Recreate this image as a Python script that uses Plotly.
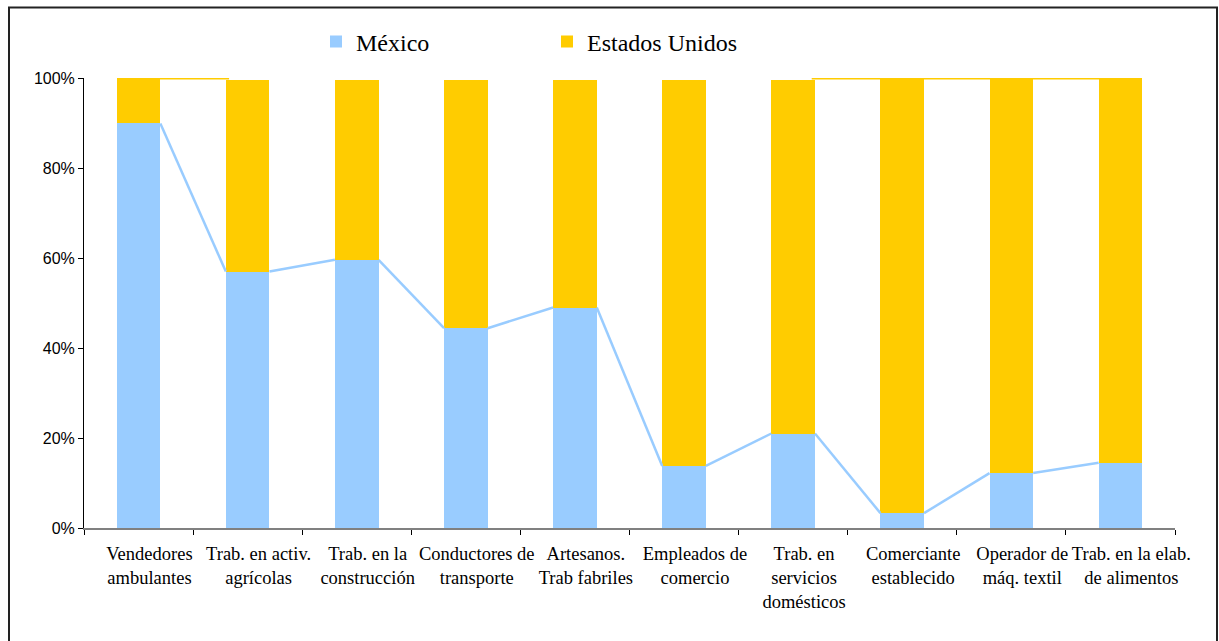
import plotly.graph_objects as go

# categories and values (percent)
ocupaciones = [
    "Vendedores<br>ambulantes",
    "Trab. en activ.<br>agrícolas",
    "Trab. en la<br>construcción",
    "Conductores de<br>transporte",
    "Artesanos.<br>Trab fabriles",
    "Empleados de<br>comercio",
    "Trab. en<br>servicios<br>domésticos",
    "Comerciante<br>establecido",
    "Operador de<br>máq. textil",
    "Trab. en la elab.<br>de alimentos",
]
mexico = [89.9, 57.0, 59.6, 44.4, 49.0, 13.8, 21.0, 3.3, 12.2, 14.5]
estados_unidos = [10.1, 42.6, 40.0, 55.2, 50.6, 85.8, 78.6, 96.7, 87.8, 85.5]
y_ticks = [0, 20, 40, 60, 80, 100]
y_labels = ["0%", "20%", "40%", "60%", "80%", "100%"]

AZUL = "#99CCFF"
AMARILLO = "#FFCC00"
W, H = 1219, 641
L, R, T, B = 84, 1219 - 1175, 78, 641 - 528
BW = 0.4

xs = list(range(len(ocupaciones)))
fig = go.Figure()
fig.add_trace(go.Bar(x=xs, y=mexico, name="México", marker=dict(color=AZUL, line_width=0),
                     width=BW))
fig.add_trace(go.Bar(x=xs, y=estados_unidos, name="Estados Unidos",
                     marker=dict(color=AMARILLO, line_width=0), width=BW))

# series lines (Excel style) joining the tops of neighbouring bars
for i in range(len(xs) - 1):
    fig.add_trace(go.Scatter(x=[xs[i] + BW / 2, xs[i + 1] - BW / 2], y=[mexico[i], mexico[i + 1]],
                             mode="lines", line=dict(color=AZUL, width=2.5), showlegend=False,
                             hoverinfo="skip", cliponaxis=False))
    tot_a = mexico[i] + estados_unidos[i]
    tot_b = mexico[i + 1] + estados_unidos[i + 1]
    if max(tot_a, tot_b) >= 100:
        fig.add_trace(go.Scatter(x=[xs[i] + BW / 2 - 0.03, xs[i + 1] - BW / 2 + 0.03],
                                 y=[max(tot_a, tot_b)] * 2, mode="lines",
                                 line=dict(color=AMARILLO, width=3), showlegend=False,
                                 hoverinfo="skip", cliponaxis=False))


def px(xp, yp):
    # screen pixel -> paper coords
    return (xp - L) / (W - L - R), 1 - (yp - T) / (H - T - B)


x0, y0 = px(9, 7.5)
x1, y1 = px(1217, 650)
fig.add_shape(type="rect", xref="paper", yref="paper", x0=x0, y0=y0, x1=x1, y1=y1,
              line=dict(color="#222222", width=2))

lx, ly = px(316, 42)
fig.update_layout(
    width=W, height=H,
    margin=dict(l=L, r=R, t=T, b=B),
    paper_bgcolor="white", plot_bgcolor="white",
    barmode="stack",
    showlegend=True,
    legend=dict(orientation="h", x=lx, y=ly, xanchor="left", yanchor="middle",
                traceorder="normal",
                font=dict(family="Liberation Serif", size=24, color="black"),
                entrywidth=186, entrywidthmode="pixels", bgcolor="rgba(0,0,0,0)"),
    # labels sit a little right of the bar centres, as in the original
    xaxis=dict(range=[-0.5, len(xs) - 0.5], tickvals=[x + 0.1 for x in xs], ticktext=ocupaciones,
               ticks="", showgrid=False, zeroline=False, showline=True, linecolor="#808080",
               linewidth=2,
               tickfont=dict(family="Liberation Serif", size=18.5, color="black"),
               ticklabelstandoff=8,
               minor=dict(tick0=-0.5, dtick=1, ticks="outside", ticklen=5, tickcolor="black",
                          showgrid=False)),
    yaxis=dict(range=[0, 100], tickvals=y_ticks, ticktext=y_labels, ticks="outside", ticklen=5,
               tickcolor="black", showgrid=False, zeroline=False, showline=True,
               linecolor="black", linewidth=1,
               tickfont=dict(family="Liberation Sans", size=16, color="black")),
)

fig.write_html("out.html", config={"displayModeBar": False},
               post_script="document.body.style.margin='0';"
                           "document.body.style.overflow='hidden';")
